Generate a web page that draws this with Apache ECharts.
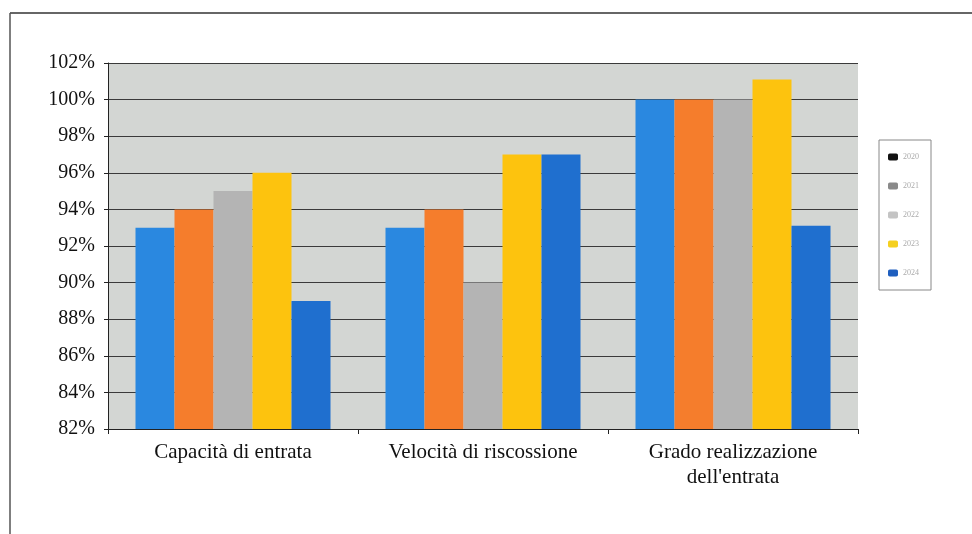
<!DOCTYPE html>
<html>
<head>
<meta charset="utf-8">
<script src="https://cdn.jsdelivr.net/npm/echarts@6/dist/echarts.min.js"></script>
<style>html,body{margin:0;padding:0;background:#fff;}#c{width:972px;height:534px;}</style>
</head>
<body>
<div id="c"></div>
<script>
const categories = ['Capacità di entrata', 'Velocità di riscossione', "Grado realizzazione\ndell'entrata"];
const seriesNames = ['2020', '2021', '2022', '2023', '2024'];
const s2020 = [93, 93, 100];
const s2021 = [94, 94, 100];
const s2022 = [95, 90, 100];
const s2023 = [96, 97, 101.1];
const s2024 = [89, 97, 93.1];
const seriesValues = [s2020, s2021, s2022, s2023, s2024];
const colors = ['#2a88e0', '#f57d2c', '#b4b4b4', '#fdc30e', '#1f6fcf'];
const legendIconColors = ['#111111', '#8a8a8a', '#c4c4c4', '#f5d020', '#1f5fbf'];

const chart = echarts.init(document.getElementById('c'));
chart.setOption({
  animation: false,
  graphic: [
    { type: 'line', shape: { x1: 10, y1: 13, x2: 972, y2: 13 }, style: { stroke: '#333', lineWidth: 1.5 } },
    { type: 'line', shape: { x1: 10, y1: 13, x2: 10, y2: 534 }, style: { stroke: '#555', lineWidth: 1.5 } }
  ],
  grid: { left: 108, right: 114, top: 63, bottom: 105, show: true, backgroundColor: '#d3d6d3', borderWidth: 0 },
  legend: {
    orient: 'vertical',
    left: 879, top: 140,
    itemGap: 21,
    itemWidth: 10, itemHeight: 7,
    padding: [13, 12, 13, 9],
    backgroundColor: '#fff',
    borderColor: '#888', borderWidth: 1,
    textStyle: { fontSize: 8, color: '#aaa', fontFamily: 'Liberation Serif' },
    data: seriesNames.map((n, i) => ({ name: n, itemStyle: { color: legendIconColors[i] } }))
  },
  xAxis: {
    type: 'category',
    data: categories,
    axisLine: { lineStyle: { color: '#222', width: 1 } },
    axisTick: { show: true, lineStyle: { color: '#222' } },
    axisLabel: { fontFamily: 'Liberation Serif', fontSize: 21, color: '#111', margin: 11, lineHeight: 25 }
  },
  yAxis: {
    type: 'value',
    min: 82, max: 102, interval: 2,
    axisLine: { show: true, lineStyle: { color: '#222' } },
    axisTick: { show: true, length: 4, lineStyle: { color: '#222' } },
    splitLine: { lineStyle: { color: '#3a3a3a', width: 1.2 } },
    axisLabel: { formatter: v => v + '%', fontFamily: 'Liberation Serif', fontSize: 20, color: '#111', margin: 13 }
  },
  series: seriesNames.map((n, i) => ({
    name: n,
    type: 'bar',
    data: seriesValues[i],
    barGap: '0%',
    barCategoryGap: '22%',
    itemStyle: { color: colors[i] }
  }))
});
</script>
</body>
</html>
